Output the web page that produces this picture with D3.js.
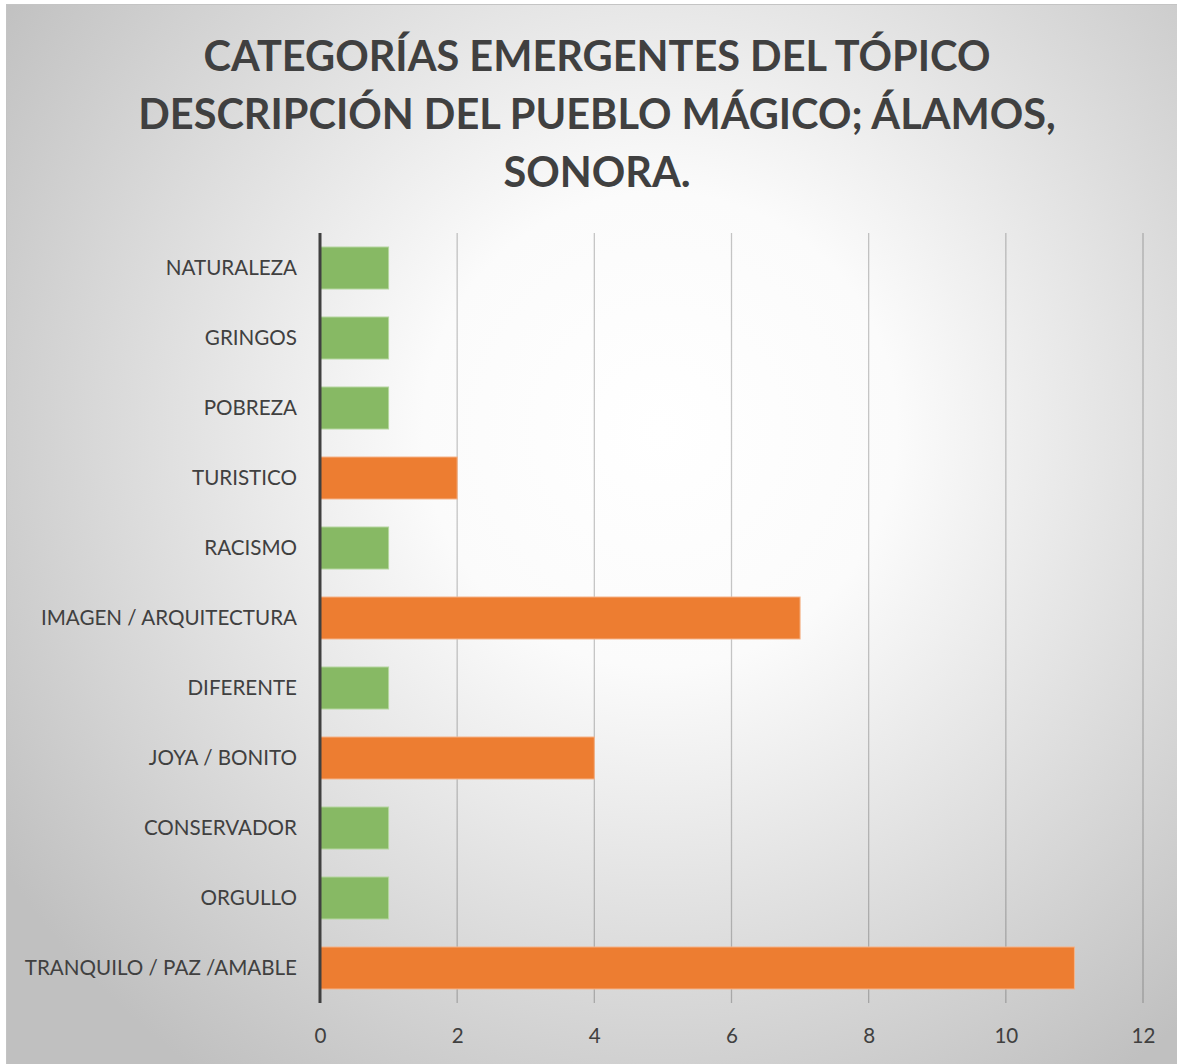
<!DOCTYPE html>
<html>
<head>
<meta charset="utf-8">
<script src="https://cdn.jsdelivr.net/npm/d3@7"></script>
<style>
  html, body { margin: 0; padding: 0; background: #fff; }
  text { font-family: Lato, "Open Sans", sans-serif; }
</style>
</head>
<body>
<div id="chart"></div>
<script>
// Data
const categories = ["NATURALEZA", "GRINGOS", "POBREZA", "TURISTICO", "RACISMO",
  "IMAGEN / ARQUITECTURA", "DIFERENTE", "JOYA / BONITO", "CONSERVADOR", "ORGULLO",
  "TRANQUILO / PAZ /AMABLE"];
const values = [1, 1, 1, 2, 1, 7, 1, 4, 1, 1, 11];
const groups = ["g", "g", "g", "o", "g", "o", "g", "o", "g", "g", "o"];
const titleLines = ["CATEGORÍAS EMERGENTES DEL TÓPICO", "DESCRIPCIÓN DEL PUEBLO MÁGICO; ÁLAMOS,", "SONORA."];
const xTicks = [0, 2, 4, 6, 8, 10, 12];

const width = 1177;
const height = 1064;
const margin = { top: 233, right: 34, bottom: 61, left: 320 };

const colors = { g: "#87b964", o: "#ed7d31" };
const strokes = { g: "#b5d69f", o: "#f5b48a" };

const svg = d3.select("#chart")
  .append("svg")
  .attr("width", width)
  .attr("height", height);

// Background gradient
const defs = svg.append("defs");
const grad = defs.append("radialGradient")
  .attr("id", "bg")
  .attr("gradientUnits", "userSpaceOnUse")
  .attr("cx", 660).attr("cy", 430).attr("r", 790);
grad.append("stop").attr("offset", "0%").attr("stop-color", "#ffffff");
grad.append("stop").attr("offset", "30%").attr("stop-color", "#fbfbfb");
grad.append("stop").attr("offset", "100%").attr("stop-color", "#c0c0c0");

svg.append("rect")
  .attr("x", 6.5).attr("y", 4.5)
  .attr("width", width + 10).attr("height", height + 10)
  .attr("fill", "url(#bg)")
  .attr("stroke", "#c4c4c4")
  .attr("stroke-width", 1);

// Scales
const x = d3.scaleLinear()
  .domain([0, 12])
  .range([margin.left, width - margin.right]);

const y = d3.scaleBand()
  .domain(categories)
  .range([margin.top, height - margin.bottom])
  .paddingInner(0.4)
  .paddingOuter(0.2);

// Title
svg.append("g")
  .selectAll("text")
  .data(titleLines)
  .enter()
  .append("text")
  .attr("x", 597)
  .attr("y", (d, i) => 71 + i * 58)
  .attr("text-anchor", "middle")
  .attr("font-size", 41.5)
  .attr("font-weight", "bold")
  .attr("fill", "#404040")
  .text(d => d);

// Gridlines
svg.append("g")
  .selectAll("line")
  .data(xTicks.filter(d => d > 0))
  .enter()
  .append("line")
  .attr("x1", d => x(d)).attr("x2", d => x(d))
  .attr("y1", margin.top).attr("y2", height - margin.bottom)
  .attr("stroke", "#000")
  .attr("stroke-opacity", 0.22)
  .attr("stroke-width", 1.3);

// Bars
svg.append("g")
  .selectAll("rect")
  .data(categories)
  .enter()
  .append("rect")
  .attr("x", x(0))
  .attr("y", d => y(d))
  .attr("width", (d, i) => x(values[i]) - x(0))
  .attr("height", y.bandwidth())
  .attr("fill", (d, i) => colors[groups[i]])
  .attr("stroke", (d, i) => strokes[groups[i]])
  .attr("stroke-width", 1);

// Y axis line
svg.append("line")
  .attr("x1", x(0)).attr("x2", x(0))
  .attr("y1", margin.top).attr("y2", height - margin.bottom)
  .attr("stroke", "#404040")
  .attr("stroke-width", 3);

// Category labels
const yAxis = svg.append("g")
  .attr("transform", `translate(${x(0) - 23},0)`)
  .call(d3.axisLeft(y).tickSize(0).tickPadding(0));
yAxis.select(".domain").remove();
yAxis.selectAll("text")
  .attr("font-size", 20.6)
  .attr("fill", "#404040")
  .attr("font-family", "Lato, 'Open Sans', sans-serif");

// X tick labels
const xAxis = svg.append("g")
  .attr("transform", `translate(0,${height - margin.bottom})`)
  .call(d3.axisBottom(x).tickValues(xTicks).tickSize(0).tickPadding(25));
xAxis.select(".domain").remove();
xAxis.selectAll("text")
  .attr("font-size", 20.6)
  .attr("fill", "#404040")
  .attr("font-family", "Lato, 'Open Sans', sans-serif");
</script>
</body>
</html>
